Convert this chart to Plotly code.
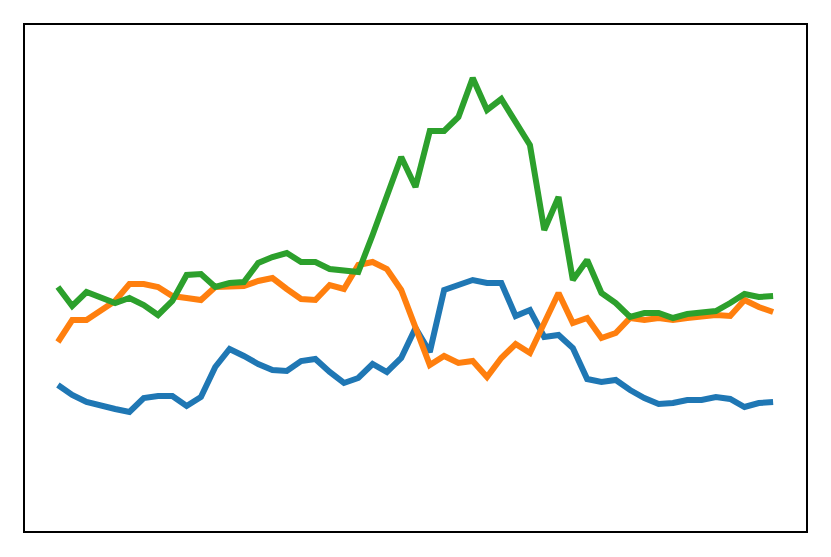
import plotly.graph_objects as go

x = list(range(51))

blue = [14.6, 13.6, 12.9, 12.5, 12.2, 11.9, 13.3, 13.5, 13.5, 12.5, 13.4, 16.4, 18.2, 17.5, 16.7, 16.1, 16.0,
        17.0, 17.2, 15.9, 14.8, 15.3, 16.7, 15.9, 17.3, 20.3, 17.9, 24.1, 24.6, 25.1, 24.8, 24.8, 21.5, 22.1,
        19.4, 19.6, 18.3, 15.2, 14.9, 15.1, 14.1, 13.3, 12.7, 12.8, 13.1, 13.1, 13.4, 13.2, 12.4, 12.8, 12.9]

orange = [18.9, 21.1, 21.1, 22.0, 23.0, 24.7, 24.7, 24.4, 23.5, 23.3, 23.1, 24.4, 24.5, 24.5, 25.0, 25.3, 24.2,
          23.2, 23.1, 24.6, 24.2, 26.6, 26.9, 26.2, 24.1, 20.3, 16.6, 17.5, 16.8, 17.0, 15.4, 17.3, 18.7, 17.8,
          20.8, 23.8, 20.8, 21.3, 19.3, 19.8, 21.3, 21.1, 21.3, 21.1, 21.3, 21.5, 21.6, 21.5, 23.1, 22.4, 21.9]

green = [24.4, 22.5, 23.9, 23.3, 22.8, 23.3, 22.6, 21.6, 23.0, 25.6, 25.7, 24.4, 24.8, 24.9, 26.8, 27.4, 27.8,
         26.9, 26.9, 26.2, 26.0, 25.9, 29.6, 33.6, 37.4, 34.4, 40.0, 40.0, 41.4, 45.3, 42.1, 43.2, 40.9, 38.6,
         30.1, 33.4, 25.1, 27.1, 23.8, 22.8, 21.4, 21.8, 21.8, 21.3, 21.7, 21.9, 22.0, 22.8, 23.7, 23.4, 23.5]

series = [(blue, "#1f77b4"), (orange, "#ff7f0e"), (green, "#2ca02c")]

fig = go.Figure()
for ys, c in series:
    fig.add_trace(go.Scatter(x=x, y=ys, mode="lines",
                             line=dict(color=c, width=6), showlegend=False,
                             hoverinfo="skip"))

axis_common = dict(showgrid=False, zeroline=False, showticklabels=False, ticks="",
                   showline=True, linecolor="black", linewidth=2, mirror=True)
fig.update_xaxes(range=[-2.3, 52.3], **axis_common)
fig.update_yaxes(range=[0, 50.6], **axis_common)

# page body has an 8px default margin; compensate so the plot box sits at 25..806 x 25..531
fig.update_layout(width=831, height=557, margin=dict(l=17, r=33, t=17, b=34),
                  paper_bgcolor="white", plot_bgcolor="white")

fig.write_html("out.html")
